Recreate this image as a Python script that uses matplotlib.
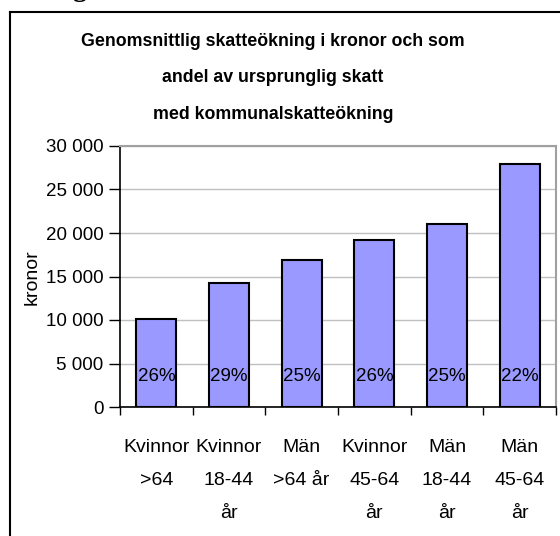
import matplotlib
matplotlib.use("Agg")
import matplotlib.pyplot as plt
from matplotlib.lines import Line2D

categories = ["Kvinnor\n>64", "Kvinnor\n18-44\når", "Män\n>64 år",
              "Kvinnor\n45-64\når", "Män\n18-44\når", "Män\n45-64\når"]
values = [10100, 14300, 16900, 19200, 21000, 27900]
shares = ["26%", "29%", "25%", "26%", "25%", "22%"]
yticks = [0, 5000, 10000, 15000, 20000, 25000, 30000]
ytick_labels = ["0", "5 000", "10 000", "15 000", "20 000", "25 000", "30 000"]
title = "Genomsnittlig skatteökning i kronor och som\nandel av ursprunglig skatt\nmed kommunalskatteökning"

plt.rcParams['font.family'] = ['Liberation Sans', 'DejaVu Sans']

W, H = 560, 536
fig = plt.figure(figsize=(W / 100, H / 100), dpi=100)
fig.patch.set_facecolor("white")

ax = fig.add_axes([120 / W, 1 - 407 / H, (556 - 120) / W, (407 - 146) / H])
x = list(range(len(values)))
ax.bar(x, values, width=0.55, color="#9999FF", edgecolor="black", linewidth=1.5, zorder=3)
for xi, s in zip(x, shares):
    ax.text(xi, 3500, s, ha="center", va="center", fontsize=13.5, zorder=4)

ax.set_xlim(-0.5, len(values) - 0.5)
ax.set_ylim(0, 30000)
ax.set_yticks(yticks)
ax.set_yticklabels(ytick_labels, fontsize=13.5)
ax.yaxis.grid(True, color="#c0c0c0", linewidth=1, zorder=0)
ax.set_axisbelow(True)

ax.set_xticks(x)
ax.set_xticklabels(categories, fontsize=14, linespacing=2.25, va="top")
ax.set_xticks([i - 0.5 for i in range(len(values) + 1)], minor=True)
ax.tick_params(axis="x", which="major", length=0, pad=23)
ax.tick_params(axis="x", which="minor", length=6, width=1, direction="out")
ax.tick_params(axis="y", length=8, width=1, direction="out", pad=4)

for side in ["left", "bottom"]:
    ax.spines[side].set_color("black")
    ax.spines[side].set_linewidth(1.2)
for side in ["top", "right"]:
    ax.spines[side].set_color("#a0a0a0")
    ax.spines[side].set_linewidth(1.5)

ax.set_ylabel("kronor", fontsize=14)
ax.yaxis.set_label_coords(-(120 - 41) / (556 - 120), (407 - 277) / (407 - 146))

fig.text(273 / W, 1 - 78 / H, title, ha="center", va="center", fontsize=12.8,
         fontweight="bold", linespacing=2.5)

# outer chart frame (left and top edges visible)
fig.add_artist(Line2D([10 / W, 10 / W], [0, 1 - 12 / H], transform=fig.transFigure,
                      color="black", linewidth=1.5))
fig.add_artist(Line2D([10 / W, 1.0], [1 - 12 / H, 1 - 12 / H], transform=fig.transFigure,
                      color="black", linewidth=1.5))

# cropped heading fragment at the very top
fig.text(72 / W, 1 + 4 / H, "g", ha="left", va="baseline", fontsize=20,
         fontweight="bold", family=["Liberation Serif", "DejaVu Serif"])

fig.savefig("out.png", dpi=100)
